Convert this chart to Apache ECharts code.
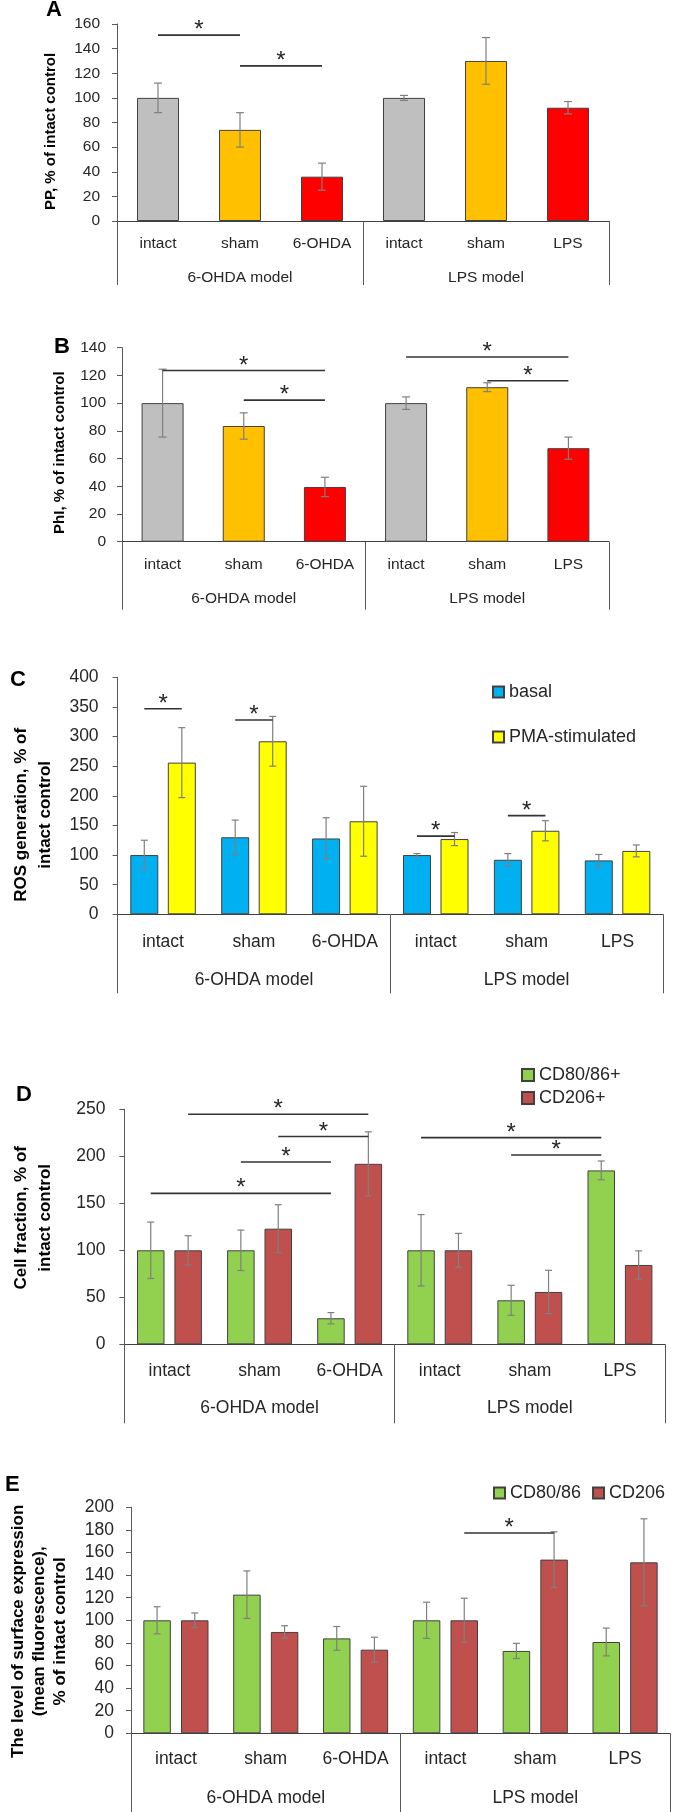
<!DOCTYPE html>
<html><head><meta charset="utf-8">
<script src="https://cdn.jsdelivr.net/npm/echarts@6/dist/echarts.min.js"></script>
<style>html,body{margin:0;padding:0;background:#fff}#c{width:674px;height:1812px}</style>
</head><body><div id="c"></div><script>
// ---------- DATA ----------
const subLabels = ['intact', 'sham', '6-OHDA', 'intact', 'sham', 'LPS'];
const groupLabels = ['6-OHDA model', 'LPS model'];

// A: PP
const ppMean = [100, 74, 36, 100, 130, 92];
const ppErr = [12, 14, 11, 2, 19, 5];
const ppSig = [[0, 151, 1], [1, 126, 2]];            // [fromCat, y, toCat]

// B: PhI
const phiMean = [100, 83.5, 39.5, 100, 111.5, 67.5];
const phiErr = [24.5, 9.5, 7, 4.5, 3.2, 8];
const phiSig = [[0, 123.6, 2], [1, 102.2, 2], [3, 133.3, 5], [4, 116.2, 5]];

// C: ROS
const rosSeries = ['basal', 'PMA-stimulated'];
const rosBasal = [100, 130, 128, 100, 92, 91];
const rosBasalErr = [25, 29, 35, 2.5, 10.5, 10];
const rosPma = [256, 292, 157, 127, 141, 107];
const rosPmaErr = [59, 42, 59, 11, 17, 10];
const rosSig = [[0, 347, 0, 0, 1], [1, 328, 0, 1, 1], [3, 132, 0, 3, 1], [4, 166.5, 0, 4, 1]]; // [cat1, y, ser1, cat2, ser2]

// D: cell fraction
const cellSeries = ['CD80/86+', 'CD206+'];
const cell80 = [100, 100, 27.7, 100, 46.8, 185];
const cell80Err = [30, 21.5, 6, 38, 16, 10];
const cell206 = [100, 123, 192, 100, 55.7, 84.4];
const cell206Err = [15.5, 25.5, 34, 18, 23, 15];
const cellSig = [[0, 244.7, 1, 2, 1], [1, 221, 1, 2, 1], [1, 194, 0, 2, 0], [0, 160.6, 0, 2, 0], [3, 219.9, 0, 5, 0], [4, 201.4, 0, 5, 0]];

// E: surface expression
const mfiSeries = ['CD80/86', 'CD206'];
const mfi80 = [100, 122.7, 84, 100, 72.9, 80.8];
const mfi80Err = [12, 21, 10.5, 16, 6.7, 12.3];
const mfi206 = [100, 89.7, 74, 100, 153.7, 151.3];
const mfi206Err = [6.5, 5.5, 11, 19.5, 24.6, 38.5];
const mfiSig = [[3, 177.3, 1, 4, 1]];

// ---------- STYLE / LAYOUT ----------
const fam = "'Liberation Sans', Arial, sans-serif";
const txt = '#262626';
const axisCol = '#595959';
const abColors = ['#BFBFBF', '#FFC000', '#FF0000'];

const panels = [
  {letter: 'A', lx: 46, ly: -1, left: 117, right: 65, top: 24, height: 197, max: 160, interval: 20,
   name: 'PP, % of intact control', nameSize: 15, nameGap: 57, namePad: [0, 18, 0, 0], lh: 18,
   tick: 15.5, tickMargin: 17, lab: 15.5, labMargin: 23, grpOffset: 64, grpMargin: 7, cap: 4},
  {letter: 'B', lx: 54, ly: 336, left: 122, right: 65, top: 347.7, height: 194, max: 140, interval: 20,
   name: 'PhI, % of intact control', nameSize: 15, nameGap: 50, namePad: [0, 16, 0, 0], lh: 18,
   tick: 15.5, tickMargin: 16, lab: 15.5, labMargin: 23.5, grpOffset: 68, grpMargin: 11, cap: 4},
  {letter: 'C', lx: 10, ly: 669, left: 117.6, right: 11, top: 677.3, height: 237, max: 400, interval: 50,
   name: 'ROS generation, % of\nintact control', nameSize: 17, nameGap: 60, namePad: [0, 38, 0, 0], lh: 24,
   tick: 17.5, tickMargin: 19, lab: 17.5, labMargin: 28, grpOffset: 79, grpMargin: 13, cap: 3.5,
   bw: 28, gap: 0.34, legend: {left: 492, top: 683, orient: 'vertical', itemGap: 27, icon: 11}},
  {letter: 'D', lx: 16, ly: 1084, left: 124.4, right: 9, top: 1109.3, height: 235, max: 250, interval: 50,
   name: 'Cell fraction, % of\nintact control', nameSize: 17, nameGap: 67, namePad: [0, 0, 0, 18], lh: 24,
   tick: 17.5, tickMargin: 19, lab: 17.5, labMargin: 27, grpOffset: 79, grpMargin: 15, cap: 3.5,
   bw: 27.5, gap: 0.36, legend: {left: 521, top: 1066, orient: 'vertical', itemGap: 5, icon: 12}},
  {letter: 'E', lx: 5, ly: 1474, left: 128.7, right: 4, top: 1507.3, height: 226, max: 200, interval: 20,
   name: 'The level of surface expression\n(mean fluorescence),\n% of intact control', nameSize: 17, nameGap: 60, namePad: [0, 22, 0, 0], lh: 21,
   tick: 17.5, tickMargin: 17, lab: 17.5, labMargin: 26, grpOffset: 82, grpMargin: 17, cap: 3.5,
   bw: 27.5, gap: 0.37, legend: {left: 493, top: 1484, orient: 'horizontal', itemGap: 11, icon: 11}}
];

// ---------- BUILD ----------
const grid = [], xAxis = [], yAxis = [], series = [], legend = [], graphic = [];

panels.forEach((p, k) => {
  grid.push({left: p.left, right: p.right, top: p.top, height: p.height, containLabel: false});
  xAxis.push({
    gridIndex: k, type: 'category', data: subLabels, position: 'bottom',
    axisLine: {show: true, lineStyle: {color: '#404040', width: 1}},
    axisTick: {show: false}, splitLine: {show: false},
    axisLabel: {interval: 0, color: txt, fontSize: p.lab, fontFamily: fam, margin: p.labMargin, verticalAlign: 'middle'}
  });
  xAxis.push({
    gridIndex: k, type: 'category', data: groupLabels, position: 'bottom', offset: p.grpOffset,
    axisLine: {show: false}, splitLine: {show: false},
    axisTick: {show: true, inside: true, length: p.grpOffset, lineStyle: {color: axisCol, width: 1}},
    axisLabel: {inside: true, interval: 0, color: txt, fontSize: p.lab, fontFamily: fam, margin: p.grpMargin, verticalAlign: 'middle'}
  });
  yAxis.push({
    gridIndex: k, type: 'value', min: 0, max: p.max, interval: p.interval,
    axisLine: {show: true, lineStyle: {color: axisCol, width: 1}},
    axisTick: {show: true, length: 5, lineStyle: {color: axisCol}},
    splitLine: {show: false},
    axisLabel: {color: txt, fontSize: p.tick, fontFamily: fam, margin: p.tickMargin},
    name: p.name, nameLocation: 'middle', nameRotate: 90, nameGap: p.nameGap,
    nameTextStyle: {fontWeight: 'bold', fontSize: p.nameSize, fontFamily: fam, color: '#000', lineHeight: p.lh, align: 'center', padding: p.namePad}
  });
  graphic.push({type: 'text', left: p.lx, top: p.ly, style: {text: p.letter, font: 'bold 22px ' + fam, fill: '#000'}});
});

function errorSeries(k, means, errs, offsetSign, p) {
  return {
    type: 'custom', xAxisIndex: 2 * k, yAxisIndex: k, z: 5, silent: true,
    data: means.map((m, i) => [i, m, errs[i]]),
    encode: {x: 0, y: 1},
    renderItem: function (params, api) {
      const i = api.value(0), m = api.value(1), e = api.value(2);
      const off = p.bw ? offsetSign * p.bw * (1 + p.gap) / 2 : 0;
      const t = api.coord([i, m + e]), b = api.coord([i, m - e]);
      const x = t[0] + off;
      const st = {stroke: '#7F7F7F', lineWidth: 1.2};
      return {type: 'group', children: [
        {type: 'line', shape: {x1: x, y1: t[1], x2: x, y2: b[1]}, style: st},
        {type: 'line', shape: {x1: x - p.cap, y1: t[1], x2: x + p.cap, y2: t[1]}, style: st},
        {type: 'line', shape: {x1: x - p.cap, y1: b[1], x2: x + p.cap, y2: b[1]}, style: st}
      ]};
    }
  };
}

function sigSeries(k, sigs, p, dual) {
  return {
    type: 'custom', xAxisIndex: 2 * k, yAxisIndex: k, z: 6, silent: true,
    data: sigs,
    encode: {x: 0, y: 1},
    renderItem: function (params, api) {
      const half = p.bw ? p.bw * (1 + p.gap) / 2 : 0;
      let c1, c2;
      if (dual) {
        c1 = api.coord([api.value(0), api.value(1)]);
        c2 = api.coord([api.value(3), api.value(1)]);
        c1[0] += (api.value(2) ? 1 : -1) * half;
        c2[0] += (api.value(4) ? 1 : -1) * half;
      } else {
        c1 = api.coord([api.value(0), api.value(1)]);
        c2 = api.coord([api.value(2), api.value(1)]);
      }
      const mx = (c1[0] + c2[0]) / 2;
      return {type: 'group', children: [
        {type: 'line', shape: {x1: c1[0], y1: c1[1], x2: c2[0], y2: c2[1]}, style: {stroke: '#333', lineWidth: 1.6}},
        {type: 'text', x: mx, y: c1[1] - 4.5, style: {text: '*', font: '24px ' + fam, fill: '#262626', textAlign: 'center', textVerticalAlign: 'middle'}}
      ]};
    }
  };
}

// A & B single series
[[ppMean, ppErr, ppSig], [phiMean, phiErr, phiSig]].forEach((d, k) => {
  const p = panels[k];
  series.push({
    type: 'bar', xAxisIndex: 2 * k, yAxisIndex: k, data: d[0], barWidth: 42,
    itemStyle: {color: (q) => abColors[q.dataIndex % 3], borderColor: '#404040', borderWidth: 1}
  });
  series.push(errorSeries(k, d[0], d[1], 0, p));
  series.push(sigSeries(k, d[2], p, false));
});

// C, D, E dual series
const dual = [
  {names: rosSeries, a: rosBasal, ae: rosBasalErr, b: rosPma, be: rosPmaErr, sig: rosSig, colors: ['#00B0F0', '#FFFF00']},
  {names: cellSeries, a: cell80, ae: cell80Err, b: cell206, be: cell206Err, sig: cellSig, colors: ['#92D050', '#C0504D']},
  {names: mfiSeries, a: mfi80, ae: mfi80Err, b: mfi206, be: mfi206Err, sig: mfiSig, colors: ['#92D050', '#C0504D']}
];
dual.forEach((d, j) => {
  const k = j + 2, p = panels[k];
  series.push({
    name: d.names[0], type: 'bar', xAxisIndex: 2 * k, yAxisIndex: k, data: d.a, barWidth: p.bw, barGap: (p.gap * 100) + '%',
    itemStyle: {color: d.colors[0], borderColor: '#404040', borderWidth: 1}
  });
  series.push({
    name: d.names[1], type: 'bar', xAxisIndex: 2 * k, yAxisIndex: k, data: d.b, barWidth: p.bw, barGap: (p.gap * 100) + '%',
    itemStyle: {color: d.colors[1], borderColor: '#404040', borderWidth: 1}
  });
  series.push(errorSeries(k, d.a, d.ae, -1, p));
  series.push(errorSeries(k, d.b, d.be, 1, p));
  series.push(sigSeries(k, d.sig, p, true));
  legend.push({
    data: d.names, left: p.legend.left, top: p.legend.top, orient: p.legend.orient, itemGap: p.legend.itemGap,
    width: 200, padding: 0,
    itemWidth: p.legend.icon, itemHeight: p.legend.icon, icon: 'rect', selectedMode: false,
    textStyle: {fontSize: 18, fontFamily: fam, color: txt}
  });
});

const chart = echarts.init(document.getElementById('c'), null, {renderer: 'canvas'});
chart.setOption({animation: false, backgroundColor: '#fff', grid, xAxis, yAxis, series, legend, graphic});
</script></body></html>
